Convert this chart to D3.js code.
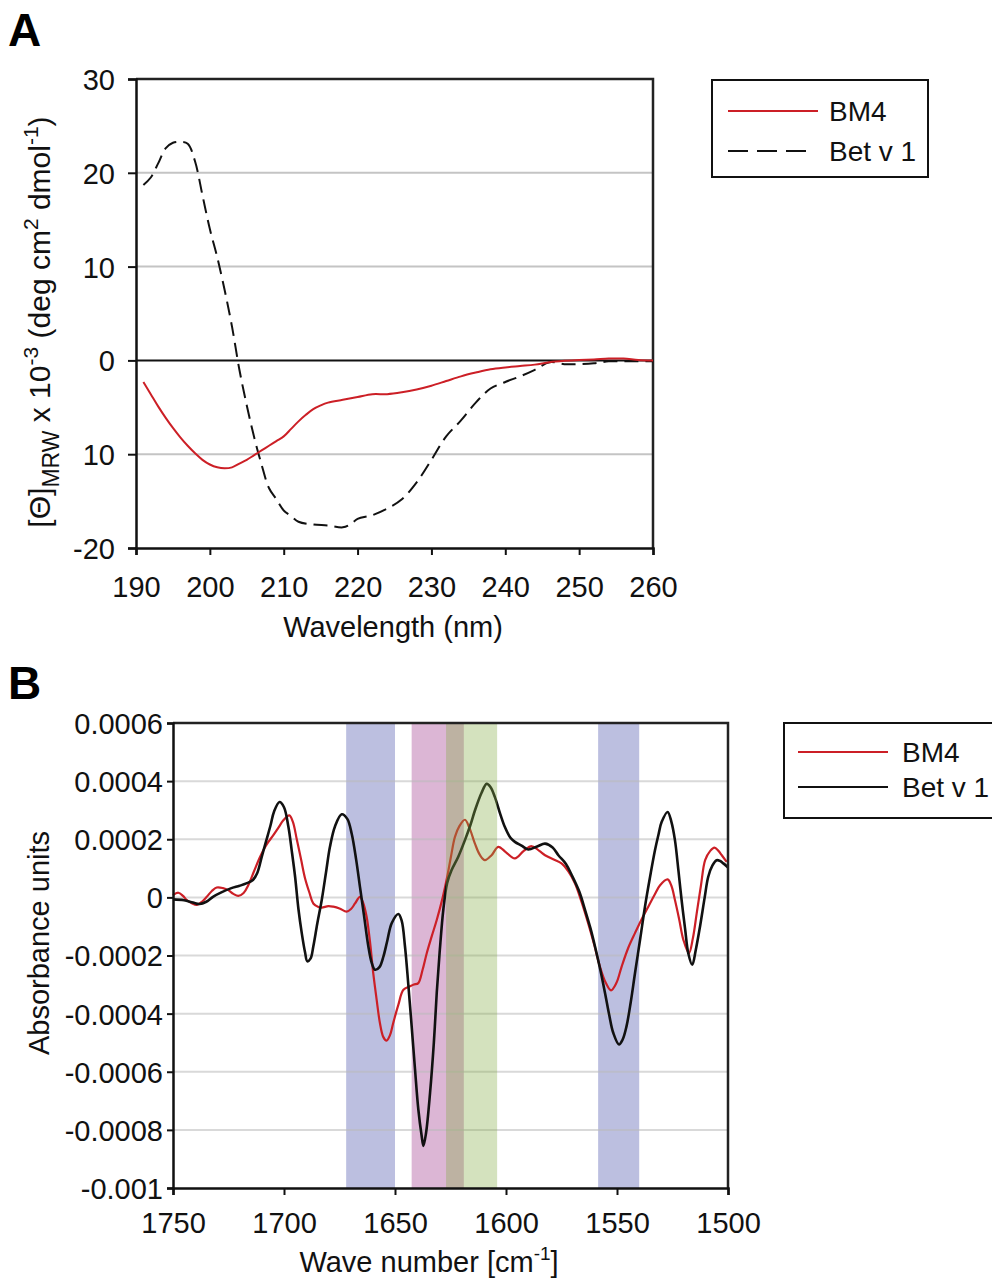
<!DOCTYPE html>
<html>
<head>
<meta charset="utf-8">
<script src="https://cdn.jsdelivr.net/npm/d3@7"></script>
<style>
  body { margin: 0; background: #fff; }
  svg { display: block; font-family: "Liberation Sans", Arial, sans-serif; }
</style>
</head>
<body>
<div id="chart"></div>
<script>
// ---- panel A data (CD spectra) ----
var wlBM4 = [191,192,193,194,195,196,197,198,199,200,201,202,203,204,205,206,207,208,209,210,211,212,213,214,215,216,218,220,222,224,226,228,230,232,234,236,238,240,242,244,246,248,250,252,254,256,258,260];
var cdBM4 = [-2.3,-3.6,-4.9,-6.1,-7.2,-8.2,-9.1,-9.9,-10.6,-11.1,-11.4,-11.5,-11.4,-11.0,-10.6,-10.1,-9.6,-9.1,-8.6,-8.1,-7.3,-6.5,-5.8,-5.2,-4.8,-4.5,-4.2,-3.9,-3.6,-3.6,-3.4,-3.1,-2.7,-2.2,-1.7,-1.3,-0.95,-0.75,-0.6,-0.45,-0.2,-0.05,0.05,0.1,0.2,0.2,0.05,0];
var wlBet = [191,192,193,194,195,196,197,198,199,200,201,202,203,204,205,206,207,208,209,210,211,212,214,216,218,219,220,222,224,226,228,230,232,234,236,238,240,242,244,246,248,250,252,254,256,258,260];
var cdBet = [18.7,19.5,21.0,22.6,23.2,23.3,23.1,21.2,17.6,14.0,11.0,7.5,3.6,-1.0,-4.8,-8.2,-11.1,-13.6,-14.8,-16.0,-16.6,-17.2,-17.5,-17.6,-17.8,-17.5,-16.9,-16.5,-15.8,-14.8,-13.0,-10.6,-8.1,-6.4,-4.5,-3.0,-2.3,-1.7,-1.0,-0.2,-0.4,-0.4,-0.3,-0.1,-0.1,-0.1,-0.1];
var xTicksA = [190,200,210,220,230,240,250,260];
var yTicksA = [-20,-10,0,10,20,30];
var yTickLabelsA = ["-20","10","0","10","20","30"];

// ---- panel B data (FTIR 2nd derivative, units of 1e-4) ----
var wnBet = [1750,1745,1741,1738,1735,1732,1728,1724,1720,1717,1714,1712,1710,1708,1706,1704.5,1702,1700,1698,1696.5,1695,1693.5,1692,1690.5,1689.5,1688,1686.8,1685,1683,1681,1679.3,1677,1674,1671.5,1669.5,1667.5,1665.8,1664,1662,1660.5,1659,1657,1655.2,1653.5,1651.5,1648.5,1647,1645.5,1644,1642.5,1641,1639.5,1638,1637.2,1636,1634.2,1632.5,1631.2,1629.8,1628.2,1626.5,1624.5,1621.5,1618.5,1616,1614,1611,1608.7,1607,1605,1602.5,1600.5,1598,1596,1593,1590,1586,1582.4,1579,1576.4,1573,1570.4,1567,1564.4,1562,1559.9,1557.5,1555.4,1553.5,1551.7,1549.1,1547.5,1545.7,1543.8,1541.9,1539.5,1537.4,1535,1532.9,1531.2,1529.9,1527.2,1525.5,1523.9,1522.3,1520.9,1519.3,1517.9,1516.1,1514.5,1512.6,1510.5,1508.9,1507,1505.1,1503.5,1502.1,1500];
var abBet = [-0.07,-0.1,-0.18,-0.23,-0.15,0.02,0.18,0.31,0.40,0.48,0.6,0.85,1.4,1.95,2.5,2.95,3.28,3.1,2.42,1.6,0.71,-0.4,-1.23,-1.9,-2.2,-2.1,-1.69,-0.9,-0.09,0.9,1.74,2.45,2.86,2.7,2.19,1.3,0.37,-0.6,-1.69,-2.25,-2.49,-2.4,-2.03,-1.5,-0.89,-0.57,-0.8,-1.69,-3.0,-4.43,-5.9,-7.29,-8.2,-8.55,-8.1,-6.72,-5.0,-3.29,-1.8,-0.4,0.5,0.94,1.4,1.97,2.5,2.99,3.6,3.91,3.8,3.45,2.85,2.42,2.05,1.91,1.78,1.65,1.75,1.85,1.72,1.45,1.15,0.77,0.2,-0.43,-1.05,-1.69,-2.5,-3.29,-4.05,-4.66,-5.06,-4.9,-4.43,-3.6,-2.61,-1.4,-0.32,0.75,1.62,2.2,2.59,2.94,2.6,1.97,0.9,-0.09,-1.1,-1.92,-2.32,-1.8,-1.0,0.0,0.71,1.1,1.28,1.25,1.17,1.03];
var wnBM4 = [1750,1747.6,1745.5,1743.8,1741.5,1739.3,1737,1734.8,1732.5,1730.3,1727.5,1725.1,1722.8,1720.6,1718.2,1716.1,1713.5,1710.8,1708,1704.8,1702.5,1700.3,1697.6,1696,1694.3,1692.3,1690.5,1688.5,1686.8,1684.5,1683,1680,1677.8,1675,1671.8,1669.8,1668,1665.8,1664.3,1662.8,1661.3,1659.8,1658.3,1656.8,1655.3,1653.8,1652.3,1650.8,1648.5,1646.2,1643.2,1641.5,1639.5,1637.6,1635.7,1633.5,1631.2,1628.5,1626.5,1624.8,1623,1621,1618.5,1616.5,1614,1611.7,1609.5,1606.5,1603.5,1600,1596,1592,1588.4,1585,1582.4,1578.5,1575,1572,1568.9,1566,1563,1560.2,1557.7,1555,1552.7,1550.3,1547.9,1545,1541.9,1538.9,1535.9,1533,1530.6,1527.2,1525.5,1523.9,1522,1520.1,1517.6,1515.8,1514.1,1512.2,1510.3,1508,1506.1,1504.3,1502.8,1500.6];
var abBM4 = [0.08,0.16,0.05,-0.09,-0.2,-0.26,-0.15,0.02,0.22,0.34,0.32,0.25,0.12,0.05,0.15,0.42,0.9,1.39,1.8,2.14,2.4,2.65,2.82,2.6,2.02,1.3,0.65,0.15,-0.21,-0.33,-0.35,-0.3,-0.32,-0.38,-0.49,-0.4,-0.21,0.02,-0.2,-0.66,-1.5,-2.61,-3.5,-4.32,-4.8,-4.93,-4.75,-4.32,-3.7,-3.18,-3.06,-3.0,-2.95,-2.5,-1.92,-1.35,-0.78,0.0,0.7,1.4,2.08,2.45,2.67,2.4,1.85,1.45,1.28,1.45,1.74,1.55,1.34,1.6,1.76,1.6,1.45,1.3,1.17,0.9,0.48,-0.15,-0.89,-1.65,-2.38,-2.95,-3.2,-2.95,-2.38,-1.75,-1.23,-0.75,-0.32,0.1,0.42,0.62,0.4,-0.09,-0.75,-1.46,-1.92,-1.4,-0.55,0.4,1.28,1.6,1.71,1.6,1.45,1.22];
var xTicksB = [1750,1700,1650,1600,1550,1500];
var yTicksB = [-0.001,-0.0008,-0.0006,-0.0004,-0.0002,0,0.0002,0.0004,0.0006];
var yTickLabelsB = ["-0.001","-0.0008","-0.0006","-0.0004","-0.0002","0","0.0002","0.0004","0.0006"];
// highlighted wave number bands [from, to] and their kind
var bandRanges = [[1672,1650],[1642.5,1619],[1627,1604],[1558.5,1540]];
var bandKinds = ["blue","pink","green","blue"];
var seriesNames = ["BM4","Bet v 1"];

// blue / pink sit under the spectra, green is a translucent wash laid over them
var bandColor = {blue: "#bcbfe0", pink: "#dcb6d5", green: "rgb(132,172,69)"};
var bandOver = {blue: false, pink: false, green: true};
var RED = "#cc1f26";
var FONT = "Liberation Sans, Arial, sans-serif";

var svg = d3.select("#chart").append("svg")
  .attr("width", 992)
  .attr("height", 1284);

function pairs(xs, ys, k) {
  return xs.map(function(x, i){ return {x: x, y: ys[i] * (k || 1)}; });
}

function styleAxis(g) {
  g.select(".domain").style("stroke", "#111").style("stroke-width", 2.5);
  g.selectAll(".tick line").style("stroke", "#111").style("stroke-width", 2);
  g.selectAll(".tick text").attr("font-size", 29).attr("fill", "#111")
    .style("font-family", FONT);
}

// ================= Panel A =================
var A = {left: 136, right: 653, top: 79, bottom: 548};
var xA = d3.scaleLinear().domain([190, 260]).range([A.left, A.right]);
var yA = d3.scaleLinear().domain([-20, 30]).range([A.bottom, A.top]);

svg.append("text").attr("x", 8).attr("y", 46)
  .attr("font-size", 46).attr("font-weight", "bold").text("A");

// gridlines
svg.append("g").selectAll("line")
  .data(yTicksA.filter(function(d){ return d != 0 && d != -20 && d != 30; }))
  .enter().append("line")
  .attr("x1", A.left).attr("x2", A.right)
  .attr("y1", d => yA(d)).attr("y2", d => yA(d))
  .style("stroke", "#c4c4c4").style("stroke-width", 2);
// zero line
svg.append("line")
  .attr("x1", A.left).attr("x2", A.right)
  .attr("y1", yA(0)).attr("y2", yA(0))
  .style("stroke", "#111").style("stroke-width", 2);
// frame top / right
svg.append("path")
  .attr("d", "M" + A.left + "," + A.top + "H" + A.right + "V" + A.bottom)
  .style("fill", "none").style("stroke", "#222").style("stroke-width", 2.5);

var lineA = d3.line().x(d => xA(d.x)).y(d => yA(d.y)).curve(d3.curveCatmullRom.alpha(0.5));
svg.append("path").datum(pairs(wlBet, cdBet))
  .attr("d", lineA)
  .style("fill", "none").style("stroke", "#111").style("stroke-width", 2)
  .style("stroke-dasharray", "14,7");
svg.append("path").datum(pairs(wlBM4, cdBM4))
  .attr("d", lineA)
  .style("fill", "none").style("stroke", RED).style("stroke-width", 2);

var axAx = svg.append("g").attr("transform", "translate(0," + A.bottom + ")")
  .call(d3.axisBottom(xA).tickValues(xTicksA).tickSize(7).tickPadding(21));
var axAy = svg.append("g").attr("transform", "translate(" + A.left + ",0)")
  .call(d3.axisLeft(yA).tickValues(yTicksA).tickSize(8).tickPadding(13)
    .tickFormat(function(d, i){ return yTickLabelsA[i]; }));
styleAxis(axAx);
styleAxis(axAy);
axAy.selectAll(".tick text").attr("dy", "0.36em");

svg.append("text").attr("x", 393).attr("y", 637)
  .attr("text-anchor", "middle").attr("font-size", 29).attr("fill", "#111")
  .text("Wavelength (nm)");

var tA = svg.append("text")
  .attr("transform", "translate(50,322) rotate(-90)")
  .attr("text-anchor", "middle").attr("font-size", 30).attr("fill", "#111");
tA.append("tspan").text("[\u0398]");
tA.append("tspan").attr("font-size", 23).attr("dy", 9).text("MRW");
tA.append("tspan").attr("dy", -9).text(" x 10");
tA.append("tspan").attr("font-size", 21).attr("dy", -12).text("-3");
tA.append("tspan").attr("dy", 12).text(" (deg cm");
tA.append("tspan").attr("font-size", 21).attr("dy", -12).text("2");
tA.append("tspan").attr("dy", 12).text(" dmol");
tA.append("tspan").attr("font-size", 21).attr("dy", -12).text("-1");
tA.append("tspan").attr("dy", 12).text(")");

// legend A
var legA = svg.append("g");
legA.append("rect").attr("x", 712).attr("y", 80).attr("width", 216).attr("height", 97)
  .style("fill", "#fff").style("stroke", "#111").style("stroke-width", 2);
legA.selectAll("line").data(seriesNames).enter().append("line")
  .attr("x1", 728).attr("x2", (d, i) => i == 0 ? 818 : 808)
  .attr("y1", (d, i) => 111 + i * 40).attr("y2", (d, i) => 111 + i * 40)
  .style("stroke", (d, i) => i == 0 ? RED : "#111").style("stroke-width", 2.2)
  .style("stroke-dasharray", (d, i) => i == 0 ? null : "20,9");
legA.selectAll("text").data(seriesNames).enter().append("text")
  .attr("x", 829).attr("y", (d, i) => 121 + i * 40)
  .attr("font-size", 28).attr("fill", "#111").text(d => d);

// ================= Panel B =================
var B = {left: 173, right: 728, top: 723, bottom: 1188};
var xB = d3.scaleLinear().domain([1750, 1500]).range([B.left, B.right]);
var yB = d3.scaleLinear().domain([-0.001, 0.0006]).range([B.bottom, B.top]);

svg.append("text").attr("x", 8).attr("y", 699)
  .attr("font-size", 46).attr("font-weight", "bold").text("B");

var bands = bandRanges.map(function(r, i){ return {r: r, kind: bandKinds[i]}; });

function drawBands(list) {
  svg.append("g").selectAll("rect").data(list).enter().append("rect")
    .attr("x", d => xB(d.r[0])).attr("width", d => xB(d.r[1]) - xB(d.r[0]))
    .attr("y", B.top).attr("height", B.bottom - B.top)
    .style("fill", d => bandColor[d.kind])
    .style("opacity", d => bandOver[d.kind] ? 0.35 : 1);
}
drawBands(bands.filter(d => !bandOver[d.kind]));

// gridlines
svg.append("g").selectAll("line")
  .data(yTicksB.slice(1, -1)).enter().append("line")
  .attr("x1", B.left).attr("x2", B.right)
  .attr("y1", d => yB(d)).attr("y2", d => yB(d))
  .style("stroke", "#bbb").style("stroke-width", 2).style("opacity", 0.55);

var lineB = d3.line().x(d => xB(d.x)).y(d => yB(d.y)).curve(d3.curveCatmullRom.alpha(0.5));
svg.append("path").datum(pairs(wnBM4, abBM4, 1e-4))
  .attr("d", lineB)
  .style("fill", "none").style("stroke", RED).style("stroke-width", 2.2);
svg.append("path").datum(pairs(wnBet, abBet, 1e-4))
  .attr("d", lineB)
  .style("fill", "none").style("stroke", "#111").style("stroke-width", 2.6);

drawBands(bands.filter(d => bandOver[d.kind]));

svg.append("path")
  .attr("d", "M" + B.left + "," + B.top + "H" + B.right + "V" + B.bottom)
  .style("fill", "none").style("stroke", "#222").style("stroke-width", 2.5);

var axBx = svg.append("g").attr("transform", "translate(0," + B.bottom + ")")
  .call(d3.axisBottom(xB).tickValues(xTicksB).tickSize(7).tickPadding(17)
    .tickFormat(d3.format("d")));
var axBy = svg.append("g").attr("transform", "translate(" + B.left + ",0)")
  .call(d3.axisLeft(yB).tickValues(yTicksB).tickSize(6).tickPadding(4)
    .tickFormat(function(d, i){ return yTickLabelsB[i]; }));
styleAxis(axBx);
styleAxis(axBy);
axBy.selectAll(".tick text").attr("dy", "0.36em");

var tBx = svg.append("text").attr("x", 429).attr("y", 1272)
  .attr("text-anchor", "middle").attr("font-size", 29).attr("fill", "#111");
tBx.append("tspan").text("Wave number [cm");
tBx.append("tspan").attr("font-size", 19).attr("dy", -12).text("-1");
tBx.append("tspan").attr("dy", 12).text("]");

svg.append("text")
  .attr("transform", "translate(49,943) rotate(-90)")
  .attr("text-anchor", "middle").attr("font-size", 29).attr("fill", "#111")
  .text("Absorbance units");

// legend B
var legB = svg.append("g");
legB.append("rect").attr("x", 784).attr("y", 723).attr("width", 240).attr("height", 95)
  .style("fill", "#fff").style("stroke", "#111").style("stroke-width", 2);
legB.selectAll("line").data(seriesNames).enter().append("line")
  .attr("x1", 798).attr("x2", 888)
  .attr("y1", (d, i) => 752 + i * 35).attr("y2", (d, i) => 752 + i * 35)
  .style("stroke", (d, i) => i == 0 ? RED : "#111").style("stroke-width", 2.2);
legB.selectAll("text").data(seriesNames).enter().append("text")
  .attr("x", 902).attr("y", (d, i) => 762 + i * 35)
  .attr("font-size", 28).attr("fill", "#111").text(d => d);
</script>
</body>
</html>
